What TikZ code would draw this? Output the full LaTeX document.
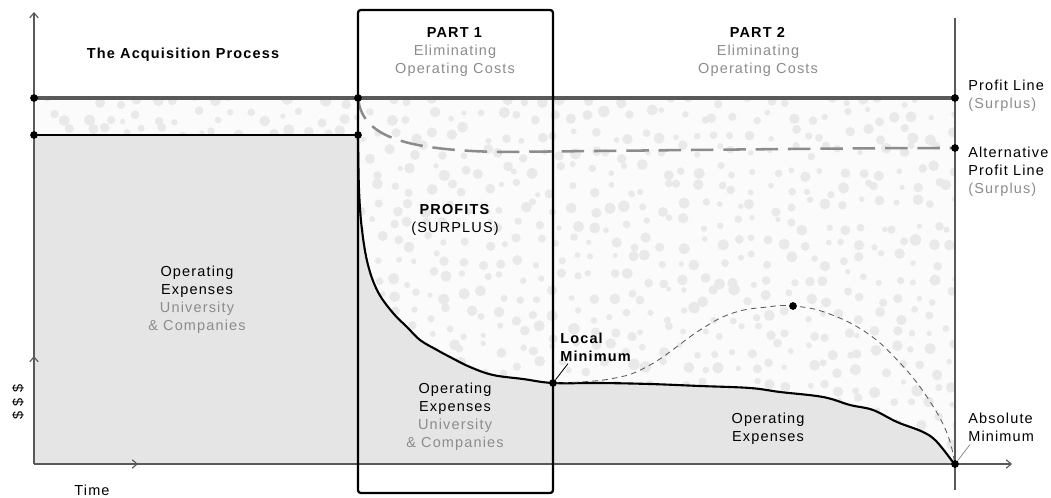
\documentclass[tikz,border=0pt]{standalone}
\usepackage{fontspec}
\setmainfont{Liberation Sans}[LetterSpace=8]
\usetikzlibrary{calc,arrows.meta}
\definecolor{textgray}{gray}{0.55}
\definecolor{linegray}{gray}{0.35}
\definecolor{altgray}{gray}{0.55}
\definecolor{expgray}{gray}{0.9}
\definecolor{dotgray}{gray}{0.915}
\definecolor{surplusbg}{gray}{0.985}

\begin{document}
\begin{tikzpicture}[x=0.025cm,y=-0.025cm,font=\fontsize{10.3}{12.8}\selectfont,
    txt/.style={align=center,inner sep=0pt},
    axis/.style={linegray,line width=0.8pt,-{Straight Barb[length=3.5pt,width=6pt]}},
    dot/.style={circle,fill=black,inner sep=0pt,minimum size=5.5pt}]
    \useasboundingbox (0,0) rectangle (1051,498);
    \def\costcurve{plot[smooth,tension=0.6] coordinates {(358,135) (359,190) (362,230) (368,265) (378,292) (393,313) (407,327) (420,340) (437,350) (450,357) (470,367) (493,375) (523,379) (553,383) (600,383) (650,384) (700,386) (750,388) (780,392) (823,397) (850,405) (873,410) (897,422) (923,432) (937,442) (955,465)}}
    \coordinate (o) at (34,464);
    \coordinate (x1) at (34,98);
    \coordinate (x2) at (358,98);
    \coordinate (x3) at (955,98);
    \coordinate (x4) at (34,135);
    \coordinate (x5) at (358,135);
    \coordinate (x6) at (955,148);
    % dotted profit area
    \begin{scope}
      \clip (34,98) rectangle (955,464);
      \fill[surplusbg] (34,98) rectangle (955,464);
      \pgfmathsetseed{11}
      \foreach \i in {0,...,51}
        \foreach \j in {0,...,20}
          \fill[dotgray] ({34+\i*18+7*rand},{98+\j*18+7*rand}) circle ({(1.8+2.3*rnd)*1pt});
    \end{scope}
    \fill[expgray] \costcurve -- (955,464) -- (o) -- (x4) -- cycle;
    % axes
    \draw[axis] (o) -- (34,12);
    \draw[axis] (o) -- (34,356);
    \draw[axis] (o) -- (1012,464);
    \draw[axis] (o) -- (138,464);
    \draw[linegray,line width=0.8pt] (955,18) -- (955,490);
    % lines
    \draw[linegray,line width=2.2pt] (x1) -- (x3);
    \draw[black,line width=2pt] (x4) -- (x5);
    \draw[altgray,line width=1.8pt,dash pattern=on 16pt off 7pt]
      (x2) .. controls (362,135) and (400,150) .. (500,152) .. controls (700,150) and (850,148) .. (x6);
    \draw[black,line width=1.5pt] \costcurve;
    \draw[linegray,line width=0.6pt,dash pattern=on 4pt off 3pt]
      plot[smooth,tension=0.7] coordinates {(553,383) (610,379) (650,365) (700,330) (733,313) (767,307) (793,306) (827,313) (867,333) (900,363) (927,397) (947,433) (955,465)};
    \draw[black,line width=1.6pt,rounded corners=2pt] (358,10) rectangle (553,493);
    % dots
    \foreach \p in {x1,x2,x3,x4,x5,x6}
      \node[dot] at (\p) {};
    \node[dot] (localmin) at (553,383) {};
    \node[dot] (absmin) at (955,464) {};
    \node[dot] (peak) at (793,306) {};
    % texts
    \node[txt,font=\fontsize{10.3}{12.8}\selectfont\bfseries] (acq) at (183,55) {The Acquisition Process};
    \node[txt] (part1) at (455,52) {\textbf{PART 1}\\{\color{textgray}Eliminating}\\{\color{textgray}Operating Costs}};
    \node[txt] (part2) at (758,52) {\textbf{PART 2}\\{\color{textgray}Eliminating}\\{\color{textgray}Operating Costs}};
    \node[txt,align=left,anchor=west] (profitlbl) at (968,96) {Profit Line\\{\color{textgray}(Surplus)}};
    \node[txt,align=left,anchor=west] (altlbl) at (968,172) {Alternative\\Profit Line\\{\color{textgray}(Surplus)}};
    \node[txt] (profits) at (455,220) {\textbf{PROFITS}\\(SURPLUS)};
    \node[txt] (opexleft) at (197,300) {Operating\\Expenses\\{\color{textgray}University}\\{\color{textgray}\& Companies}};
    \node[txt] (opexmid) at (455,417) {Operating\\Expenses\\{\color{textgray}University}\\{\color{textgray}\& Companies}};
    \node[txt] (opexright) at (768,429) {Operating\\Expenses};
    \node[txt] (time) at (92,490) {Time};
    \node[txt,rotate=90] (money) at (18,402) {\$ \$ \$};
    \node[txt,align=left,anchor=west,font=\fontsize{10.3}{12.8}\selectfont\bfseries] (locallbl) at (560,347) {Local\\Minimum};
    \node[txt,align=left,anchor=west] (abslbl) at (968,427) {Absolute\\Minimum};
    \draw[black,line width=0.6pt] ($(locallbl.south west)+(8,2)$) -- (localmin);
    \draw[gray,line width=0.5pt] ($(abslbl.south west)+(2,3)$) -- (absmin);
\end{tikzpicture}
\end{document}
